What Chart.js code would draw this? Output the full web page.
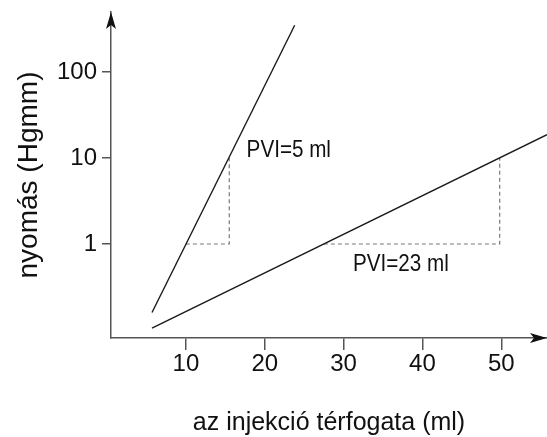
<!DOCTYPE html>
<html>
<head>
<meta charset="utf-8">
<style>
html,body{margin:0;padding:0;background:#fff;}
canvas{display:block;}
</style>
<script src="https://cdn.jsdelivr.net/npm/chart.js@4"></script>
</head>
<body>
<canvas id="c" width="547" height="437"></canvas>
<script>
// ---- data ----
const xTicks = [10, 20, 30, 40, 50];
const yTicks = [1, 10, 100];
const steepX = [5.7, 23.8];
const steepY = [0.16, 350];
const flatX = [5.7, 55.8];
const flatY = [0.105, 18.7];
const pvi5X = [10.0, 15.5, 15.5];
const pvi5Y = [1, 1, 10];
const pvi23X = [27.5, 49.8, 49.8];
const pvi23Y = [1, 1, 10];
const labelTexts = ['PVI=5 ml', 'PVI=23 ml'];
const labelX = [17.7, 31.2];
const labelY = [12.4, 0.585];
const xTitle = 'az injekció térfogata (ml)';
const yTitle = 'nyomás (Hgmm)';

const pts = (xs, ys) => xs.map((x, i) => ({x: x, y: ys[i]}));

const FONT = 'Liberation Sans, Arial, Helvetica, sans-serif';

function zeroPad(s) { s.paddingTop = 0; s.paddingBottom = 0; s.paddingLeft = 0; s.paddingRight = 0; }

const arrowsPlugin = {
  id: 'arrows',
  afterDraw(chart) {
    const ctx = chart.ctx;
    const a = chart.chartArea;
    ctx.save();
    ctx.fillStyle = '#111';
    // y-axis arrow
    ctx.beginPath();
    ctx.moveTo(a.left, a.top);
    ctx.lineTo(a.left - 5, a.top + 17);
    ctx.lineTo(a.left, a.top + 13);
    ctx.lineTo(a.left + 5, a.top + 17);
    ctx.closePath();
    ctx.fill();
    // x-axis arrow
    ctx.beginPath();
    ctx.moveTo(a.right, a.bottom);
    ctx.lineTo(a.right - 17, a.bottom - 5);
    ctx.lineTo(a.right - 13, a.bottom);
    ctx.lineTo(a.right - 17, a.bottom + 5);
    ctx.closePath();
    ctx.fill();
    // labels
    const xs = chart.scales.x, ys = chart.scales.y;
    ctx.fillStyle = '#111';
    ctx.font = '24px ' + FONT;
    ctx.textBaseline = 'middle';
    ctx.textAlign = 'left';
    labelTexts.forEach((t, i) => {
      const px = xs.getPixelForValue(labelX[i]);
      const py = ys.getPixelForValue(labelY[i]);
      ctx.save();
      ctx.translate(px, py);
      ctx.scale(0.86, 1);
      ctx.fillText(t, 0, 0);
      ctx.restore();
    });
    ctx.restore();
  }
};

new Chart(document.getElementById('c'), {
  type: 'scatter',
  data: {
    datasets: [
      {data: pts(steepX, steepY), showLine: true, borderColor: '#1a1a1a', borderWidth: 1.4, pointRadius: 0, fill: false},
      {data: pts(flatX, flatY), showLine: true, borderColor: '#1a1a1a', borderWidth: 1.4, pointRadius: 0, fill: false},
      {data: pts(pvi5X, pvi5Y), showLine: true, borderColor: '#7a7a7a', borderWidth: 1.2, borderDash: [4, 3], pointRadius: 0, fill: false},
      {data: pts(pvi23X, pvi23Y), showLine: true, borderColor: '#7a7a7a', borderWidth: 1.2, borderDash: [4, 3], pointRadius: 0, fill: false}
    ]
  },
  options: {
    responsive: false,
    animation: false,
    devicePixelRatio: 1,
    layout: {padding: {top: 12, right: 0, left: 0, bottom: 0}},
    plugins: {legend: {display: false}, tooltip: {enabled: false}},
    scales: {
      x: {
        type: 'linear',
        min: 0.5,
        max: 55.8,
        afterBuildTicks(s) { s.ticks = xTicks.map(v => ({value: v})); },
        afterFit(s) { s.height = 99; zeroPad(s); },
        grid: {display: true, drawOnChartArea: false, drawTicks: true, tickLength: 12, color: '#555', lineWidth: 1.5},
        border: {display: true, color: '#555', width: 1.5},
        ticks: {color: '#111', font: {family: FONT, size: 24}, padding: 0, maxRotation: 0, autoSkip: false,
                callback: v => String(v)},
        title: {display: true, text: xTitle, color: '#111', font: {family: FONT, size: 25, lineHeight: 1.12}, padding: {top: 0, bottom: 0}}
      },
      y: {
        type: 'logarithmic',
        min: 0.0807,
        max: 499,
        afterBuildTicks(s) { s.ticks = yTicks.map(v => ({value: v})); },
        afterFit(s) { s.width = 111; zeroPad(s); },
        grid: {display: true, drawOnChartArea: false, drawTicks: true, tickLength: 9, color: '#555', lineWidth: 1.5},
        border: {display: true, color: '#555', width: 1.5},
        ticks: {color: '#111', font: {family: FONT, size: 24}, padding: 5, autoSkip: false,
                callback: v => String(v)},
        title: {display: true, text: yTitle, color: '#111', font: {family: FONT, size: 28, lineHeight: 1.2}, padding: {top: 12, bottom: 0}}
      }
    }
  },
  plugins: [arrowsPlugin]
});
</script>
</body>
</html>
